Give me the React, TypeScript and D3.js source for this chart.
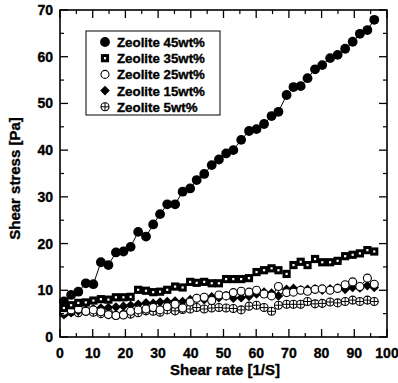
import React from "react";
import * as d3 from "d3";

const shearRate = [1.2, 3.4, 5.6, 7.9, 10.2, 12.5, 14.8, 17.1, 19.4, 21.6, 23.9, 26.3, 28.5, 30.6, 32.8, 35.2, 37.5, 39.8, 41.8, 44.1, 46.4, 48.6, 50.8, 53.0, 55.4, 57.8, 60.1, 62.4, 64.7, 66.8, 69.3, 71.4, 73.6, 75.7, 78.0, 80.2, 82.6, 84.9, 87.2, 89.5, 91.7, 94.0, 96.1];

const zeolite45 = [7.6, 9.0, 9.7, 11.5, 11.3, 16.0, 15.4, 18.1, 18.3, 19.3, 22.5, 21.5, 24.1, 26.3, 28.4, 28.4, 31.1, 31.8, 33.6, 34.9, 36.8, 38.0, 39.3, 40.0, 42.2, 44.1, 44.5, 45.6, 47.3, 48.2, 51.8, 53.5, 53.7, 55.4, 57.3, 58.2, 59.7, 60.4, 61.7, 63.2, 64.9, 65.7, 67.9];
const zeolite35 = [6.2, 6.8, 7.3, 7.4, 7.8, 8.1, 8.0, 8.5, 8.5, 8.6, 10.1, 9.9, 9.6, 9.7, 10.1, 10.8, 10.6, 11.8, 11.6, 11.8, 11.5, 11.5, 12.4, 12.4, 12.4, 12.6, 13.9, 14.3, 14.7, 14.3, 13.5, 15.4, 16.1, 15.4, 16.7, 16.0, 16.0, 16.3, 17.3, 17.6, 17.9, 18.6, 18.3];
const zeolite25 = [5.5, 5.8, 6.0, 5.5, 5.8, 5.4, 4.8, 4.6, 4.7, 5.5, 5.8, 6.0, 6.3, 5.8, 6.5, 7.0, 6.2, 7.5, 8.3, 8.5, 7.8, 9.0, 8.8, 9.5, 9.8, 9.6, 10.0, 9.2, 8.8, 10.8, 9.5, 9.6, 10.0, 9.8, 10.2, 10.3, 10.0, 10.4, 11.2, 11.8, 10.8, 12.6, 11.3];
const zeolite15 = [4.8, 5.2, 5.6, 5.8, 6.0, 6.2, 6.3, 6.4, 6.6, 6.8, 7.0, 7.3, 7.2, 7.5, 7.6, 7.7, 7.6, 8.0, 8.3, 8.0, 8.6, 8.4, 8.8, 8.3, 8.4, 8.7, 9.2, 9.6, 9.4, 8.8, 10.2, 10.4, 10.1, 10.2, 10.3, 10.0, 10.3, 10.5, 10.2, 10.6, 10.5, 11.0, 10.6];
const zeolite5 = [5.0, 5.4, 5.2, 5.5, 5.3, 5.0, 5.2, 4.6, 4.8, 4.9, 5.2, 5.6, 5.5, 5.3, 5.8, 5.6, 5.9, 6.0, 6.3, 6.0, 6.2, 6.3, 6.2, 6.1, 5.8, 6.6, 6.8, 6.3, 5.5, 6.8, 7.0, 7.0, 7.0, 7.6, 7.1, 7.2, 7.5, 7.3, 7.6, 7.9, 7.6, 7.9, 7.6];

const seriesNames = ["Zeolite 45wt%", "Zeolite 35wt%", "Zeolite 25wt%", "Zeolite 15wt%", "Zeolite 5wt%"];
const seriesValues = [zeolite45, zeolite35, zeolite25, zeolite15, zeolite5];
const seriesMarkers = ["filledCircle", "square", "openCircle", "diamond", "crossCircle"];

const xTicks = [0, 10, 20, 30, 40, 50, 60, 70, 80, 90, 100];
const yTicks = [0, 10, 20, 30, 40, 50, 60, 70];

const FONT = "'Liberation Sans', Arial, Helvetica, sans-serif";

function Marker({ type, x, y }: { type: string; x: number; y: number }) {
  switch (type) {
    case "filledCircle":
      return <circle cx={x} cy={y} r={4.9} fill="#000" />;
    case "square":
      return <rect x={x - 2.6} y={y - 2.6} width={5.2} height={5.2} fill="#fff" stroke="#000" strokeWidth={3} />;
    case "openCircle":
      return <circle cx={x} cy={y} r={4} fill="#fff" stroke="#000" strokeWidth={1.1} />;
    case "diamond":
      return <path d={`M${x},${y - 4.8}L${x + 4.8},${y}L${x},${y + 4.8}L${x - 4.8},${y}Z`} fill="#000" />;
    case "crossCircle":
      return (
        <g>
          <circle cx={x} cy={y} r={4} fill="#fff" stroke="#000" strokeWidth={1.1} />
          <line x1={x - 4} x2={x + 4} y1={y} y2={y} stroke="#000" strokeWidth={1} />
          <line x1={x} x2={x} y1={y - 4} y2={y + 4} stroke="#000" strokeWidth={1} />
        </g>
      );
    default:
      return null;
  }
}

export default function App() {
  const W = 398, H = 383;
  const left = 60, right = 387, top = 10, bottom = 337;
  const x = d3.scaleLinear().domain([0, 100]).range([left, right]);
  const y = d3.scaleLinear().domain([0, 70]).range([bottom, top]);
  const line = d3.line<number>().x((_, i) => x(shearRate[i])).y((v) => y(v));

  const xMinor = d3.range(5, 100, 10);
  const yMinor = d3.range(5, 70, 10);
  const major = 8, minor = 4;
  const drawOrder = [4, 3, 2, 1, 0];
  const textStyle = { fontFamily: FONT, fontWeight: "bold" as const, stroke: "#000", strokeWidth: 0.35 };

  return (
    <svg width={W} height={H} style={{ position: "absolute", left: 0, top: 0, background: "#fff" }}>
      <rect x={0} y={0} width={W} height={H} fill="#fff" />
      {drawOrder.map((si) => (
        <g key={si}>
          <path d={line(seriesValues[si]) || ""} fill="none" stroke="#000" strokeWidth={1} />
          {seriesValues[si].map((v, i) => (
            <Marker key={i} type={seriesMarkers[si]} x={x(shearRate[i])} y={y(v)} />
          ))}
        </g>
      ))}
      <rect x={left} y={top} width={right - left} height={bottom - top} fill="none" stroke="#000" strokeWidth={1.6} />
      {xTicks.map((t) => (
        <g key={"xt" + t}>
          <line x1={x(t)} x2={x(t)} y1={bottom} y2={bottom - major} stroke="#000" strokeWidth={1.3} />
          <line x1={x(t)} x2={x(t)} y1={top} y2={top + major} stroke="#000" strokeWidth={1.3} />
          <text x={x(t)} y={358} textAnchor="middle" fontSize={14} style={textStyle}>{t}</text>
        </g>
      ))}
      {xMinor.map((t) => (
        <g key={"xm" + t}>
          <line x1={x(t)} x2={x(t)} y1={bottom} y2={bottom - minor} stroke="#000" strokeWidth={1.2} />
          <line x1={x(t)} x2={x(t)} y1={top} y2={top + minor} stroke="#000" strokeWidth={1.2} />
        </g>
      ))}
      {yTicks.map((t) => (
        <g key={"yt" + t}>
          <line x1={left} x2={left + major} y1={y(t)} y2={y(t)} stroke="#000" strokeWidth={1.3} />
          <line x1={right} x2={right - major} y1={y(t)} y2={y(t)} stroke="#000" strokeWidth={1.3} />
          <text x={53} y={y(t) + 5} textAnchor="end" fontSize={14} style={textStyle}>{t}</text>
        </g>
      ))}
      {yMinor.map((t) => (
        <g key={"ym" + t}>
          <line x1={left} x2={left + minor} y1={y(t)} y2={y(t)} stroke="#000" strokeWidth={1.2} />
          <line x1={right} x2={right - minor} y1={y(t)} y2={y(t)} stroke="#000" strokeWidth={1.2} />
        </g>
      ))}
      <text x={225} y={375} textAnchor="middle" fontSize={15} style={textStyle}>Shear rate [1/S]</text>
      <text transform={`translate(20,${(top + bottom) / 2 + 5}) rotate(-90)`} textAnchor="middle" fontSize={15} style={textStyle}>Shear stress [Pa]</text>
      <rect x={86} y={31} width={134} height={84} fill="#fff" stroke="#000" strokeWidth={1} />
      {seriesNames.map((name, i) => (
        <g key={name}>
          <Marker type={seriesMarkers[i]} x={105} y={42 + i * 16.2} />
          <text x={117} y={42 + i * 16.2 + 5} fontSize={13.3} style={textStyle}>{name}</text>
        </g>
      ))}
    </svg>
  );
}
